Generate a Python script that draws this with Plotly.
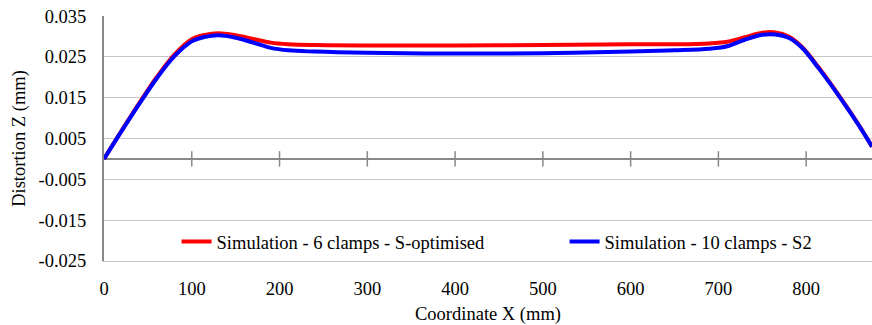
import plotly.graph_objects as go

x_vals = [0, 20, 40, 60, 80, 100, 115, 130, 150, 170, 190, 210, 240, 300, 400, 500, 600, 650, 690, 710, 730, 750, 765, 780, 795, 815, 840, 860, 875]
red_vals = [0, 0.0069, 0.0136, 0.0200, 0.0255, 0.0293, 0.0304, 0.0308, 0.0303, 0.0294, 0.0285, 0.0281, 0.0279, 0.0278, 0.0278, 0.0279, 0.0281, 0.0281, 0.0283, 0.0287, 0.0298, 0.0309, 0.0310, 0.0300, 0.0275, 0.0222, 0.0147, 0.0083, 0.0030]
blue_vals = [0, 0.0068, 0.0134, 0.0197, 0.0251, 0.0288, 0.0299, 0.0303, 0.0297, 0.0285, 0.0272, 0.0266, 0.0263, 0.0260, 0.0258, 0.0259, 0.0263, 0.0266, 0.0270, 0.0276, 0.0292, 0.0304, 0.0305, 0.0297, 0.0273, 0.0220, 0.0146, 0.0082, 0.0030]
x_ticks = [0, 100, 200, 300, 400, 500, 600, 700, 800]
y_ticks = [-0.025, -0.015, -0.005, 0.005, 0.015, 0.025, 0.035]
y_tick_labels = ["-0.025", "-0.015", "-0.005", "0.005", "0.015", "0.025", "0.035"]

FONT = "Liberation Serif"
FS = 18.5
fig = go.Figure()
fig.add_trace(go.Scatter(x=x_ticks[1:], y=[0] * (len(x_ticks) - 1), mode="markers",
                         marker=dict(symbol="line-ns", size=11, line=dict(color="#898989", width=1.5)),
                         showlegend=False, hoverinfo="skip"))
fig.add_trace(go.Scatter(x=x_vals, y=red_vals, mode="lines", name="Simulation - 6 clamps - S-optimised",
                         legendwidth=343,
                         line=dict(color="#ff0000", width=4, shape="spline", smoothing=1.0)))
fig.add_trace(go.Scatter(x=x_vals, y=blue_vals, mode="lines", name="Simulation - 10 clamps - S2",
                         line=dict(color="#0000ff", width=4, shape="spline", smoothing=1.0)))

fig.update_layout(
    width=872, height=325,
    margin=dict(l=104, r=0, t=16, b=64, autoexpand=False),
    paper_bgcolor="white", plot_bgcolor="white",
    font=dict(family=FONT, size=FS, color="#000000"),
    showlegend=True,
    legend=dict(orientation="h", x=0.0945, y=0.078, xanchor="left", yanchor="middle",
                bgcolor="white", font=dict(family=FONT, size=FS), itemwidth=30,
                tracegroupgap=0),
    xaxis=dict(range=[0, 875], tickvals=x_ticks, showgrid=False, zeroline=False,
               showline=True, linecolor="#c6c6c6", linewidth=1,
               ticks="", ticklabelstandoff=11, automargin=False,
               ticklabeloverflow="allow",
               title=dict(text="Coordinate X (mm)", font=dict(size=FS), standoff=14)),
    yaxis=dict(range=[-0.02502, 0.03502], tickvals=y_ticks, ticktext=y_tick_labels,
               showgrid=True, gridcolor="#c6c6c6", gridwidth=1,
               zeroline=True, zerolinecolor="#898989", zerolinewidth=2,
               showline=True, linecolor="#898989", linewidth=2, ticks="",
               ticklabelstandoff=12, automargin=False, ticklabeloverflow="allow",
               title=dict(text="Distortion Z (mm)", font=dict(size=FS), standoff=8)),
)
fig.write_html("out.html", config={"displayModeBar": False},
               post_script="document.body.style.margin='0';document.body.style.overflow='hidden';")
